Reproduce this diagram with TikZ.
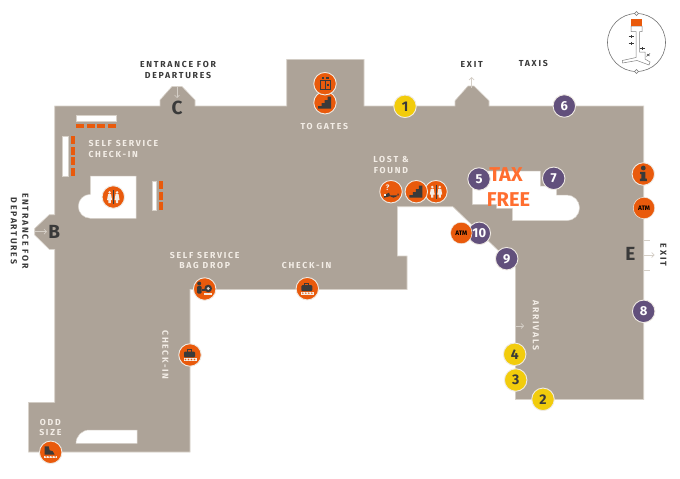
\documentclass[tikz,border=0pt]{standalone}
\usepackage{fontspec}
\setmainfont{Fira Sans}
\newfontfamily\labf[LetterSpace=20]{Fira Sans}
\usetikzlibrary{arrows.meta}
\definecolor{floorc}{HTML}{ADA398}
\definecolor{edgec}{HTML}{D8D2CA}
\definecolor{orangec}{HTML}{E95A0C}
\definecolor{taxc}{HTML}{FF6E30}
\definecolor{purplec}{HTML}{62507C}
\definecolor{yellowc}{HTML}{F2CC0C}
\definecolor{darkc}{HTML}{3A3A3A}
\definecolor{ringc}{HTML}{EFEAE3}
\definecolor{creamc}{HTML}{F3EDE6}
\definecolor{arrowc}{HTML}{D5CFC7}
\tikzset{
  floorshape/.style={fill=floorc,draw=edgec,line width=.6pt},
  holeshape/.style={fill=white,draw=edgec,line width=.5pt},
  bar/.style={fill=orangec},
  labd/.style={font=\labf\bfseries\fontsize{8.7}{9}\selectfont,text=darkc,inner sep=0pt},
  labw/.style={font=\labf\bfseries\fontsize{8.7}{9}\selectfont,text=creamc,inner sep=0pt},
  bigl/.style={font=\bfseries\fontsize{19}{20}\selectfont,text=darkc,inner sep=0pt},
  taxl/.style={font=\fontsize{20}{22}\selectfont\bfseries,text=taxc,inner sep=0pt},
  ringed/.style={circle,draw=ringc,line width=.9pt,minimum size=22.5pt,inner sep=0pt},
  purp/.style={ringed,fill=purplec,text=white,font=\fontsize{13}{14}\selectfont\bfseries},
  yell/.style={ringed,fill=yellowc,text=darkc,font=\fontsize{14}{15}\selectfont\bfseries},
  ico/.style={ringed,fill=orangec},
  atm/.style={circle,fill=orangec,draw=ringc,line width=.5pt,minimum size=21.5pt,inner sep=0pt,text=black,font=\fontsize{6.5}{7}\selectfont\bfseries},
  thinarrow/.style={draw=arrowc,line width=.7pt,-{Straight Barb[length=2.5pt,width=5pt]}},
  tick/.style={draw=arrowc,line width=.7pt},
  stairicon/.pic={\fill[darkc] (-7,6)--(-7,3.5)--(-3.5,3.5)--(-3.5,.5)--(-.5,.5)--(-.5,-2.5)--(2.5,-2.5)--(2.5,-6)--(6,-6)--(6,6)--cycle;},
  belt/.pic={\fill[creamc] (-6.5,3.2) rectangle (6.5,5.8);
    \foreach \q in {-4.5,-1.5,1.5,4.5}{\fill[orangec] (\q,4.5) circle (.8);}},
  bagicon/.pic={\fill[darkc,rounded corners=1pt] (-6,-3.5) rectangle (5,2.4);
    \draw[darkc,line width=.8pt] (-2.5,-3.5)--(-2.5,-5.3)--(1.5,-5.3)--(1.5,-3.5);
    \pic {belt};},
  oddicon/.pic={\fill[darkc] (-6,-6)--(-2,-6)--(-1,-2)--(2,-1)--(4,2.4)--(-6,2.4)--cycle;\pic {belt};},
  dropicon/.pic={\fill[darkc] (-5.5,-5.5) circle (2);
    \fill[darkc,rounded corners=1pt] (-7.5,-3) rectangle (-3,4.5);
    \fill[darkc] (-3,0) rectangle (0,2);
    \fill[darkc] (3.5,-.5) circle (3.8);
    \fill[arrowc] (3.5,-.5) circle (1.6);
    \fill[creamc] (-.5,4) rectangle (7.5,5.6);},
  losticon/.pic={\node[text=creamc,font=\fontsize{8}{8}\selectfont\bfseries,inner sep=0pt] at (-3.5,-3.5) {?};
    \fill[darkc] (-2,1.5) arc[start angle=180,end angle=0,radius=4.5] -- (8,3.6) -- (-2,3.6) -- cycle;
    \fill[darkc] (-7,3.5) -- (-2,1) -- (-1,4.5)-- (-7,6)--cycle;
    \fill[creamc] (-7,2.5) -- (-5.5,2.5)--(-5.5,4.5)--(-7,4.5)--cycle;},
  toiletfig/.pic={\fill[creamc] (0,-4.6) circle (1.4);
    \fill[creamc] (-1.5,-2.8)--(1.5,-2.8)--(2.5,3)--(1.2,3)--(1.2,6)--(-1.2,6)--(-1.2,3)--(-2.5,3)--cycle;},
  wcicon/.pic={\pic at (-4.4,0) {toiletfig};\pic at (4.4,0) {toiletfig};
    \draw[darkc,line width=.7pt] (0,-8)--(0,8);},
  lifticon/.pic={\draw[darkc,line width=.8pt] (-5,-3) rectangle (5,6);
    \draw[darkc,line width=.7pt] (.5,-3)--(.5,6);
    \fill[darkc] (-3.5,-7) rectangle (-1,-4.5);\fill[darkc] (1,-7) rectangle (3.5,-4.5);
    \fill[darkc] (2,0) rectangle (3.5,2);},
  infoicon/.pic={\fill[darkc] (0,-6) circle (2.4);
    \fill[darkc] (-3.2,-2.2)--(2,-2.2)--(2,4.5)--(3.5,4.5)--(3.5,7)--(-3.5,7)--(-3.5,4.5)--(-2,4.5)--(-2,0)--(-3.2,0)--cycle;}
}
\begin{document}
\begin{tikzpicture}[x=1pt,y=-1pt]
\useasboundingbox[fill=white] (0,0) rectangle (680,479);
% floor
\path[floorshape] (54.7,106)--(160,106)--(160,100)--(172,86.5)--(182,86.5)--(195,100)--(195,106)
 --(286.7,106)--(286.7,59.3)--(364,59.3)--(364,106)--(455,106)--(455,100.7)--(468,86)--(474,86)--(489,100.7)--(489,106)
 --(643.7,106)--(643.7,399.5)--(515.3,399.5)--(515.3,267)--(453,206.7)--(397.3,206.7)--(397.3,256)--(407,256)--(407,289.5)
 --(190,289.5)--(190,452)--(28.5,452)--(28.5,402.3)--(54.7,402.3)--(54.7,249.3)--(49.3,249.3)--(34.7,235)--(34.7,228.5)--(49.3,214.7)--(54.7,214.7)--cycle;
% white holes
\path[holeshape] (76,115.3) rectangle (116,121.3);
\path[holeshape] (62.3,136) rectangle (68.3,176);
\path[holeshape] (152,181) rectangle (156.3,210.3);
\path[holeshape] (90.3,176)--(136,176)--(136,218.3)--(90.3,218.3) arc[start angle=90,end angle=270,radius=12]--cycle;
\path[holeshape] (76,443.3) arc[start angle=180,end angle=270,radius=13.3]--(137,430)--(137,443.3)--cycle;
\path[holeshape] (472.3,171)--(540.3,171)--(540.3,186)--(556.7,186)--(556.7,195)--(566.7,195)
  arc[start angle=-90,end angle=90,radius=12.85]--(512.3,220.7)--(512.3,208.3)--(496.7,208.3)--(496.7,204.3)--(472.3,204.3)--cycle;
% orange desks
\foreach \a in {76,86.7,97.3,108}{\path[bar] (\a,123.7) rectangle ++(8,4);}
\foreach \a in {136,146.7,157.3,168}{\path[bar] (70.7,\a) rectangle ++(4,8);}
\foreach \a in {181,191.7,202.3}{\path[bar] (159,\a) rectangle ++(4,8);}
% free-end coordinates
\coordinate (cA) at (177,87);\coordinate (cB) at (177,98);
\coordinate (bA) at (35,231.7);\coordinate (bB) at (47,231.7);
\coordinate (xA) at (471.7,88);\coordinate (xB) at (471.7,77);
\coordinate (eA) at (644,255);\coordinate (eB) at (654.5,255);
\coordinate (aA) at (515.5,326);\coordinate (aB) at (524,326);
\coordinate (tA) at (644,240);\coordinate (tB) at (649.5,240);
\coordinate (uA) at (644,270);\coordinate (uB) at (649.5,270);
\draw[thinarrow] (cA)--(cB);
\draw[thinarrow] (bA)--(bB);
\draw[thinarrow] (xA)--(xB);
\draw[thinarrow] (eA)--(eB);
\draw[thinarrow] (aA)--(aB);
\draw[tick] (tA)--(tB);
\draw[tick] (uA)--(uB);
% labels
\node[labd] (l1) at (178,64) {ENTRANCE FOR};
\node[labd] (l2) at (178,75) {DEPARTURES};
\node[labd,rotate=-90] (l3) at (25.5,231) {ENTRANCE FOR};
\node[labd,rotate=-90] (l4) at (14,231) {DEPARTURES};
\node[labd] (l5) at (471.7,64) {EXIT};
\node[labd] (l6) at (533.3,63.7) {TAXIS};
\node[labd,rotate=-90] (l7) at (663.3,255) {EXIT};
\node[labw,anchor=west] (l8) at (88.3,143.7) {SELF SERVICE};
\node[labw,anchor=west] (l9) at (88.3,154) {CHECK-IN};
\node[labw] (l10) at (204.7,255) {SELF SERVICE};
\node[labw] (l11) at (204.7,265) {BAG DROP};
\node[labw] (l12) at (306.7,265) {CHECK-IN};
\node[labw,rotate=-90] (l13) at (165.3,355) {CHECK-IN};
\node[labw] (l14) at (50.3,422.3) {ODD};
\node[labw] (l15) at (50.3,432.7) {SIZE};
\node[labw] (l16) at (324.3,126) {TO GATES};
\node[labw] (l17) at (391,159.7) {LOST \&};
\node[labw] (l18) at (391,170) {FOUND};
\node[labw,rotate=-90] (l19) at (536,325.3) {ARRIVALS};
\node[bigl] (lc) at (177,108.3) {C};
\node[bigl] (lb) at (54.3,231.7) {B};
\node[bigl] (le) at (630.3,254.3) {E};
% numbered markers
\node[yell] (n1) at (405,106.3) {1};
\node[yell] (n2) at (543,399.3) {2};
\node[yell] (n3) at (515.7,380) {3};
\node[yell] (n4) at (514.7,354.3) {4};
\node[purp] (n5) at (479,179) {5};
\node[purp] (n6) at (564.3,106) {6};
\node[purp] (n7) at (553.7,178.3) {7};
\node[purp] (n8) at (643.7,311.3) {8};
\node[purp] (n9) at (506.7,258.7) {9};
\node[purp] (n10) at (479.3,233.3) {10};
\node[taxl] (tax) at (506,175) {TAX};
\node[taxl] (free) at (508.5,199.3) {FREE};
% icon markers
\node[atm] (a1) at (461.3,233) {ATM};
\node[atm] (a2) at (644,208) {ATM};
\node[ico] (i1) at (643.3,174) {}; \pic at (i1) {infoicon};
\node[ico] (w1) at (113.3,197) {}; \pic[scale=.85] at (w1) {wcicon};
\node[ico] (w2) at (436,191.7) {}; \pic[scale=.85] at (w2) {wcicon};
\node[ico] (s1) at (416.3,191.7) {}; \pic at (s1) {stairicon};
\node[ico] (q1) at (391,191.7) {}; \pic at (q1) {losticon};
\node[ico] (s2) at (325,102.7) {}; \pic at (s2) {stairicon};
\node[ico] (e1) at (325,83.7) {}; \pic at (e1) {lifticon};
\node[ico] (d1) at (204.7,289) {}; \pic at (d1) {dropicon};
\node[ico] (b1) at (307.3,288.7) {}; \pic at (b1) {bagicon};
\node[ico] (b2) at (190,355) {}; \pic at (b2) {bagicon};
\node[ico] (o1) at (50.7,452.3) {}; \pic at (o1) {oddicon};
% compass
\draw[gray!90!black,line width=.6pt] (636.5,42.5) circle (29);
\draw[gray!90!black,fill=white,line width=.5pt] (636.5,11.5)--(638.5,13.5)--(636.5,15.5)--(634.5,13.5)--cycle;
\draw[gray!90!black,fill=white,line width=.5pt] (636.5,69.5)--(638.5,71.5)--(636.5,73.5)--(634.5,71.5)--cycle;
\draw[gray,line width=.5pt] (622.3,60.5)--(622.6,63)--(637,60.5)--(649,65)--(650,62)--(645,59)--(645,52)--(639.5,52)--(639.5,31.7)--(642,31.7)--(642,26)--(631,26)--(631,31.7)--(636,31.7)--(636,57.5)--cycle;
\fill[orangec] (631,19.3) rectangle (642,26);
\foreach \p/\q in {631/36.7,631/43.3,642/48.3}{
  \draw[darkc,line width=.5pt] (\p-2.5,\q)--(\p+2.5,\q) (\p,\q-1.5)--(\p,\q+1.5);}
\draw[darkc,line width=.5pt] (646.5,56.5)--(650,53.5) (647,54)--(649.5,56);
\end{tikzpicture}
\end{document}
